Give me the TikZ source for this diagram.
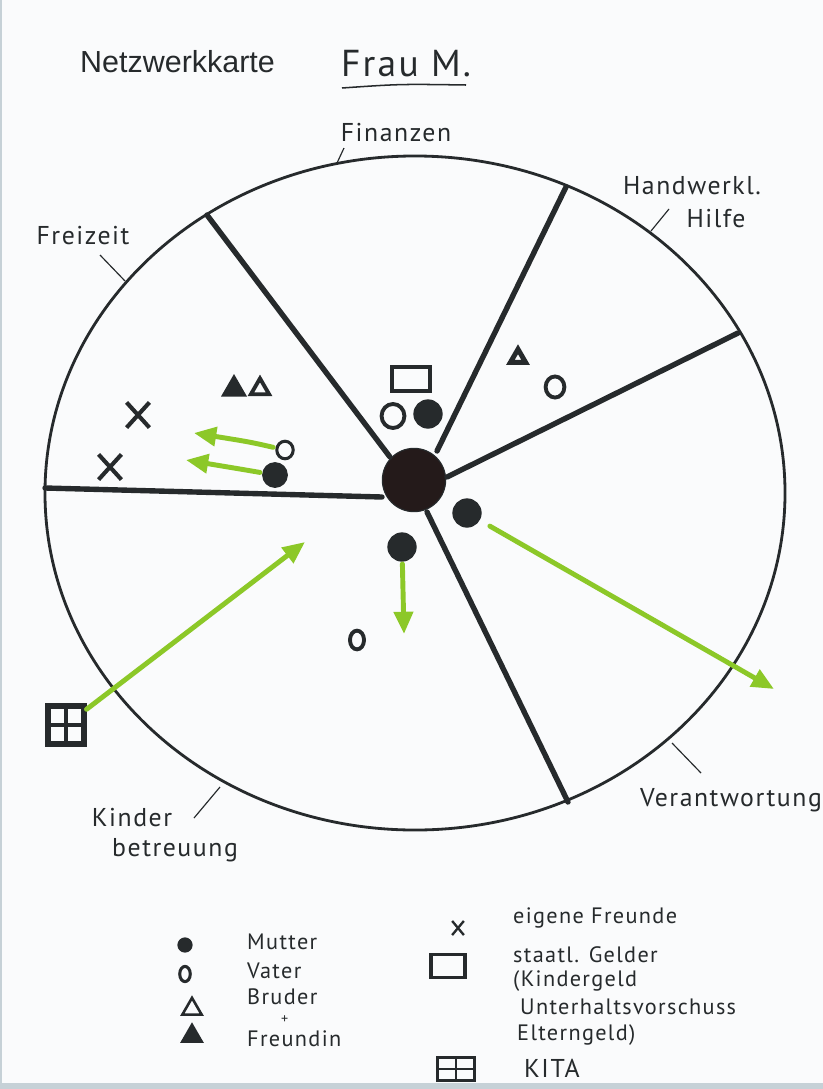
\documentclass[tikz,border=0pt]{standalone}
\usepackage{fontspec}
\setmainfont{Liberation Sans}
\newfontfamily\hand[LetterSpace=6]{PT Sans}
\usetikzlibrary{arrows.meta,shapes.geometric,shapes.misc}
\definecolor{ink}{RGB}{38,42,44}
\definecolor{core}{RGB}{36,26,26}
\definecolor{lime}{RGB}{140,200,40}
\definecolor{paper}{RGB}{250,251,252}
\definecolor{strip}{RGB}{198,209,215}
\begin{document}
\begin{tikzpicture}[x=0.03cm,y=-0.03cm,
  spoke/.style={line width=4.6pt, draw=ink, line cap=round},
  rim/.style={line width=2.4pt, draw=ink},
  tick/.style={line width=1pt, draw=ink},
  garrow/.style={line width=4.2pt, draw=lime, line cap=round, -{Triangle[length=19pt,width=16pt,fill=lime]}},
  lbl/.style={font=\hand\fontsize{22}{25}\selectfont, text=ink, inner sep=0},
  leg/.style={font=\hand\fontsize{19}{22}\selectfont, text=ink, inner sep=0, anchor=west},
  mutter/.style={circle, fill=ink, draw=ink, line width=1pt, minimum size=24pt, inner sep=0},
  vater/.style={ellipse, draw=ink, line width=3.3pt, minimum width=19pt, minimum height=20pt, inner sep=0},
  tri/.style={regular polygon, regular polygon sides=3, draw=ink, line width=3.3pt, minimum size=18pt, inner sep=0},
  ftri/.style={tri, fill=ink},
  kreuz/.style={cross out, draw=ink, line width=3.5pt, minimum width=16pt, minimum height=18pt, inner sep=0},
  geld/.style={rectangle, draw=ink, line width=3.3pt, minimum width=32pt, minimum height=20pt, inner sep=0},
  kita/.style={rectangle, draw=ink, line width=5pt, minimum width=30pt, minimum height=32pt, inner sep=0,
    path picture={\draw[ink, line width=4pt] (path picture bounding box.north) -- (path picture bounding box.south)
      (path picture bounding box.west) -- (path picture bounding box.east);}},
]
\useasboundingbox (0,0) rectangle (823,1089);
\fill[paper] (0,0) rectangle (823,1089);
\fill[strip] (0,1083) rectangle (823,1089);
\fill[strip] (0,0) rectangle (2,1083);

% title
\node[font=\fontsize{26}{30}\selectfont, text=ink, anchor=west, inner sep=0] (title) at (80,62) {Netzwerkkarte};
\node[font=\hand\fontsize{32}{36}\selectfont, text=ink, inner sep=0] (frau) at (406,64) {Frau M.};
\draw[ink, line width=1.3pt] (342,88) .. controls (400,84) .. (466,85);

% rim
\draw[rim] (415,493) ellipse [x radius=11.1cm, y radius=10.11cm];

% centre
\node[circle, fill=core, draw=ink, line width=1pt, minimum size=54pt, inner sep=0] (c) at (414,480) {};

% spokes
\coordinate (e1) at (45,488);   \coordinate (i1) at (382,497);
\coordinate (e2) at (207,215);  \coordinate (i2) at (390,457);
\coordinate (e3) at (566,187);  \coordinate (i3) at (437,451);
\coordinate (e4) at (738,333);  \coordinate (i4) at (447,477);
\coordinate (e5) at (568,802);  \coordinate (i5) at (427,512);
\draw[spoke] (i1) -- (e1);
\draw[spoke] (i2) -- (e2);
\draw[spoke] (i3) -- (e3);
\draw[spoke] (i4) -- (e4);
\draw[spoke] (i5) -- (e5);

% sector labels
\node[lbl] (lfin) at (396,133) {Finanzen};
\coordinate (tf1) at (344,148); \coordinate (tf2) at (337,163);
\draw[tick] (tf1) -- (tf2);
\node[lbl] (lhw) at (692,186) {Handwerkl.};
\node[lbl] (lhi) at (716,219) {Hilfe};
\coordinate (th1) at (669,209); \coordinate (th2) at (651,231);
\draw[tick] (th1) -- (th2);
\node[lbl] (lfr) at (83,236) {Freizeit};
\coordinate (tz1) at (100,255); \coordinate (tz2) at (125,281);
\draw[tick] (tz1) -- (tz2);
\node[lbl] (lki) at (132,818) {Kinder};
\node[lbl] (lbe) at (175,850) {betreuung};
\coordinate (tk1) at (194,818); \coordinate (tk2) at (220,787);
\draw[tick] (tk1) -- (tk2);
\node[lbl] (lve) at (731,800) {Verantwortung};
\coordinate (tv1) at (672,743); \coordinate (tv2) at (701,773);
\draw[tick] (tv1) -- (tv2);

% Finanzen sector
\node[geld] (sg) at (411,379) {};
\node[vater, minimum width=19.5pt, minimum height=20.5pt] (vc) at (393,416) {};
\node[mutter] (mc) at (428,414) {};

% Handwerk sector
\node[tri, line width=4.2pt, minimum size=15pt] (bh) at (518,358) {};
\node[vater, minimum width=16pt, minimum height=18pt] (vh) at (555,387) {};

% Freizeit sector
\node[ftri, minimum size=19pt] (fb1) at (234,389) {};
\node[tri, minimum size=18pt] (fb2) at (260,389) {};
\node[kreuz] (x1) at (138,415) {};
\node[kreuz] (x2) at (110,467) {};
\node[vater, line width=2.6pt, minimum width=14pt, minimum height=15pt] (vf) at (285,450) {};
\node[mutter, minimum size=21pt] (mf) at (275,475) {};
\coordinate (af1) at (194,433);
\coordinate (af2) at (186,460);
\draw[garrow, shorten <=2pt] (vf) .. controls (250,442) .. (af1);
\draw[garrow, shorten <=2pt] (mf) .. controls (240,469) .. (af2);

% Kinderbetreuung sector
\node[mutter] (mk) at (402,547) {};
\coordinate (ak) at (404,634);
\draw[garrow, shorten <=2pt] (mk) -- (ak);
\node[vater, minimum width=12pt, minimum height=16pt] (vk) at (357,640) {};
\node[kita] (kt) at (66,725) {};
\coordinate (akt) at (305,542);
\draw[garrow] (kt) -- (akt);

% Verantwortung
\node[mutter] (mv) at (467,513) {};
\coordinate (av) at (774,689);
\draw[garrow, shorten <=10pt] (mv) -- (av);

% legend
\node[mutter, minimum size=12pt] (gm) at (185,945) {};
\node[vater, line width=2.6pt, minimum width=9pt, minimum height=13pt] (gv) at (185,974) {};
\node[tri, line width=2.2pt, minimum size=19pt] (gb) at (192,1009) {};
\node[ftri, line width=2.2pt, minimum size=19pt] (gf) at (192,1036) {};
\node[leg] (tm) at (247,942) {Mutter};
\node[leg] (tva) at (247,971) {Vater};
\node[leg] (tbr) at (247,997) {Bruder};
\node[leg, font=\hand\fontsize{12}{13}\selectfont] (tpl) at (281,1020) {+};
\node[leg] (tfr) at (247,1039) {Freundin};
\node[kreuz, line width=2pt, minimum width=8pt, minimum height=10pt] (gx) at (458,928) {};
\node[geld, line width=2.6pt, minimum width=29pt, minimum height=19pt] (gg) at (448,966) {};
\node[kita, line width=2.6pt, minimum width=31pt, minimum height=19pt,
  path picture={\draw[ink, line width=2.2pt] (path picture bounding box.north) -- (path picture bounding box.south)
      (path picture bounding box.west) -- (path picture bounding box.east);}] (gk) at (456,1069) {};
\node[leg] (tei) at (513,918) {eigene Freunde};
\node[leg] (tst) at (513,955) {staatl. Gelder};
\node[leg] (tki) at (513,981) {(Kindergeld};
\node[leg] (tun) at (520,1007) {Unterhaltsvorschuss};
\node[leg] (tel) at (517,1035) {Elterngeld)};
\node[leg, font=\hand\fontsize{22}{25}\selectfont] (tkita) at (524,1068) {KITA};
\end{tikzpicture}
\end{document}
